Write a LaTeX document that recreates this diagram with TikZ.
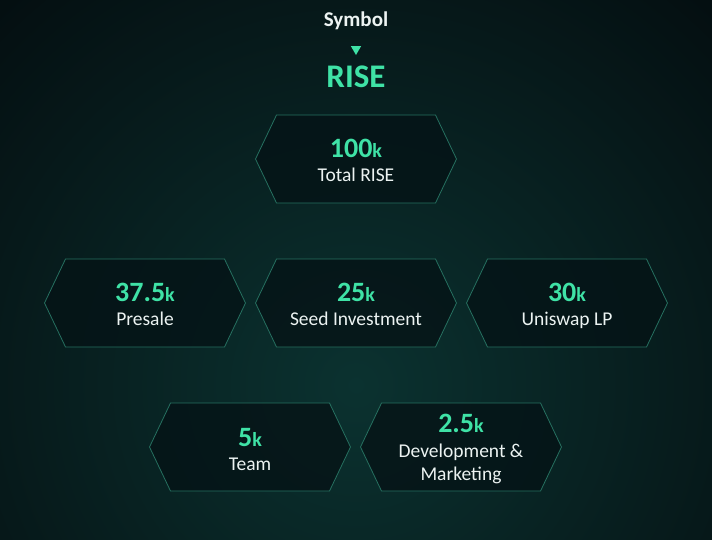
\documentclass[tikz,border=0pt]{standalone}
\usepackage{fontspec}
\setmainfont{Carlito}
\usetikzlibrary{shapes.geometric}
\definecolor{bgout}{HTML}{03080B}
\definecolor{bgin}{HTML}{0B3230}
\definecolor{accent}{HTML}{3FE2A6}
\definecolor{hexedge}{HTML}{267060}
\definecolor{hexfill}{HTML}{051316}
\definecolor{txt}{HTML}{ECF3F2}
\tikzset{
  hexline/.style={draw=hexedge, line width=0.8pt, fill=hexfill, fill opacity=0.8},
  val/.style={text=accent, font=\fontsize{28}{30}\selectfont\bfseries, inner sep=0pt, anchor=base},
  lbl/.style={text=txt, font=\fontsize{19.5}{22}\selectfont, inner sep=0pt, anchor=base},
}
\newcommand{\kk}{{\fontsize{20}{22}\selectfont k}}
\newcommand{\hexbox}[2]{%
  \draw[hexline] (#1-100.5,#2) -- ++(21,-44) -- ++(159,0) -- ++(21,44) -- ++(-21,44) -- ++(-159,0) -- cycle;}
\begin{document}
\begin{tikzpicture}[x=1pt,y=-1pt]
\useasboundingbox (0,0) rectangle (712,539);
\begin{scope}
\clip (0,0) rectangle (712,539);
\fill[bgout] (0,0) rectangle (712,539);
\shade[inner color=bgin, outer color=bgout] (356,385) circle (620);
\end{scope}
\node[text=txt, font=\fontsize{21}{23}\selectfont\bfseries, inner sep=0pt, anchor=base] (sym) at (356,26) {Symbol};
\node[isosceles triangle, isosceles triangle apex angle=60, shape border rotate=-90, fill=accent, inner sep=0pt, minimum height=9pt, minimum width=10pt] (tri) at (356,49) {};
\node[text=accent, font=\fontsize{33}{35}\selectfont\bfseries, inner sep=0pt, anchor=base] (rise) at (356,87) {RISE};
% hexagons
\hexbox{356}{159}
\hexbox{145}{303}
\hexbox{356}{303}
\hexbox{567}{303}
\hexbox{250}{447}
\hexbox{461}{447}
% texts
\node[val] (v100) at (356,157) {100\kk};
\node[lbl] (l100) at (356,181) {Total RISE};
\node[val] (v375) at (145,301) {37.5\kk};
\node[lbl] (l375) at (145,325) {Presale};
\node[val] (v25) at (356,301) {25\kk};
\node[lbl] (l25) at (356,325) {Seed Investment};
\node[val] (v30) at (567,301) {30\kk};
\node[lbl] (l30) at (567,325) {Uniswap LP};
\node[val] (v5) at (250,446) {5\kk};
\node[lbl] (l5) at (250,470) {Team};
\node[val] (v25b) at (461,432) {2.5\kk};
\node[lbl] (l25b) at (461,457) {Development \&};
\node[lbl] (l25c) at (461,480) {Marketing};
\end{tikzpicture}
\end{document}
